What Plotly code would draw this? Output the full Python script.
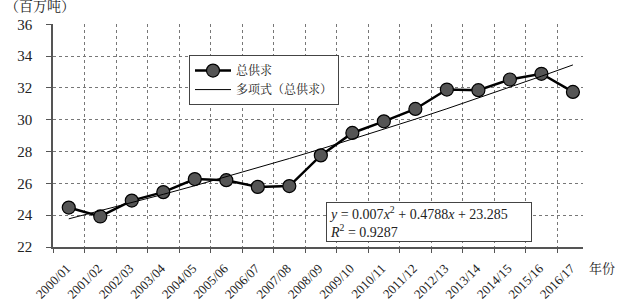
import numpy as np
import plotly.graph_objects as go

years = ["2000/01", "2001/02", "2002/03", "2003/04", "2004/05", "2005/06", "2006/07",
         "2007/08", "2008/09", "2009/10", "2010/11", "2011/12", "2012/13", "2013/14",
         "2014/15", "2015/16", "2016/17"]
supply = [24.48, 23.92, 24.92, 25.45, 26.27, 26.2, 25.78, 25.83, 27.76, 29.17, 29.9,
          30.68, 31.9, 31.86, 32.53, 32.89, 31.75]
# polynomial trendline coefficients as shown on the chart
coef_a, coef_b, coef_c = 0.007, 0.4788, 23.285
y_ticks = [22, 24, 26, 28, 30, 32, 34, 36]

xi = np.arange(1, len(years) + 1)
trend = coef_a * xi ** 2 + coef_b * xi + coef_c

FONT = "Liberation Serif, 'Noto Serif CJK SC', 'Noto Sans CJK SC', serif"

fig = go.Figure()
fig.add_trace(go.Scatter(
    x=years, y=supply, name="总供求", mode="lines+markers",
    line=dict(color="black", width=2.5),
    marker=dict(size=13, color="#555555", line=dict(color="black", width=1.2)),
))
fig.add_trace(go.Scatter(
    x=years, y=trend, name="多项式（总供求）", mode="lines",
    line=dict(color="black", width=1),
))

fig.update_layout(
    width=617, height=305,
    margin=dict(l=53, r=34, t=24, b=58),
    plot_bgcolor="white", paper_bgcolor="white",
    font=dict(family=FONT, size=14, color="#222222"),
    showlegend=True,
    legend=dict(
        x=(189 - 53) / 530, y=1 - (55 - 24) / 222.4, xanchor="left", yanchor="top",
        bordercolor="#444444", borderwidth=1, bgcolor="white",
        font=dict(size=12, family=FONT), tracegroupgap=0,
        itemwidth=36,
    ),
    xaxis=dict(
        type="category", range=[-0.5, 16.32], automargin=False,
        showline=True, linecolor="#555555", linewidth=1.5,
        tickson="boundaries", ticks="outside", ticklen=4, tickcolor="#555555",
        showgrid=True, gridcolor="#777777", griddash="dot", gridwidth=1,
        tickangle=-45, tickfont=dict(size=13, family=FONT),
        ticklabelstandoff=7, ticklabelshift=-2,
    ),
    yaxis=dict(
        range=[22, 36.02], tickvals=y_ticks, automargin=False,
        showline=True, linecolor="#555555", linewidth=1.5,
        ticks="outside", ticklen=5, tickcolor="#555555",
        showgrid=True, gridcolor="#777777", griddash="dot", gridwidth=1,
        zeroline=False, tickfont=dict(size=15, family=FONT), ticklabelstandoff=11,
    ),
)

fig.add_annotation(
    xref="paper", yref="paper", x=(326 - 53) / 530, y=1 - (202 - 24) / 222.4,
    xanchor="left", yanchor="top", align="left",
    text="<i>y</i> = 0.007<i>x</i><sup>2</sup> + 0.4788<i>x</i> + 23.285<br><i>R</i><sup>2</sup> = 0.9287",
    showarrow=False, bordercolor="#444444", borderwidth=1, bgcolor="white",
    width=200, height=34, borderpad=2,
    font=dict(size=14, family=FONT, color="#222222"),
)
fig.add_annotation(
    xref="paper", yref="paper", x=-50 / 530, y=1 + 17 / 222.4,
    xanchor="left", yanchor="middle", text="（百万吨）", showarrow=False,
    font=dict(size=14, family=FONT, color="#222222"),
)
fig.add_annotation(
    xref="paper", yref="paper", x=(587 - 53) / 530, y=-(268 - 246.4) / 222.4,
    xanchor="left", yanchor="middle", text="年份", showarrow=False,
    font=dict(size=13, family=FONT, color="#222222"),
)

fig.write_html("out.html")
